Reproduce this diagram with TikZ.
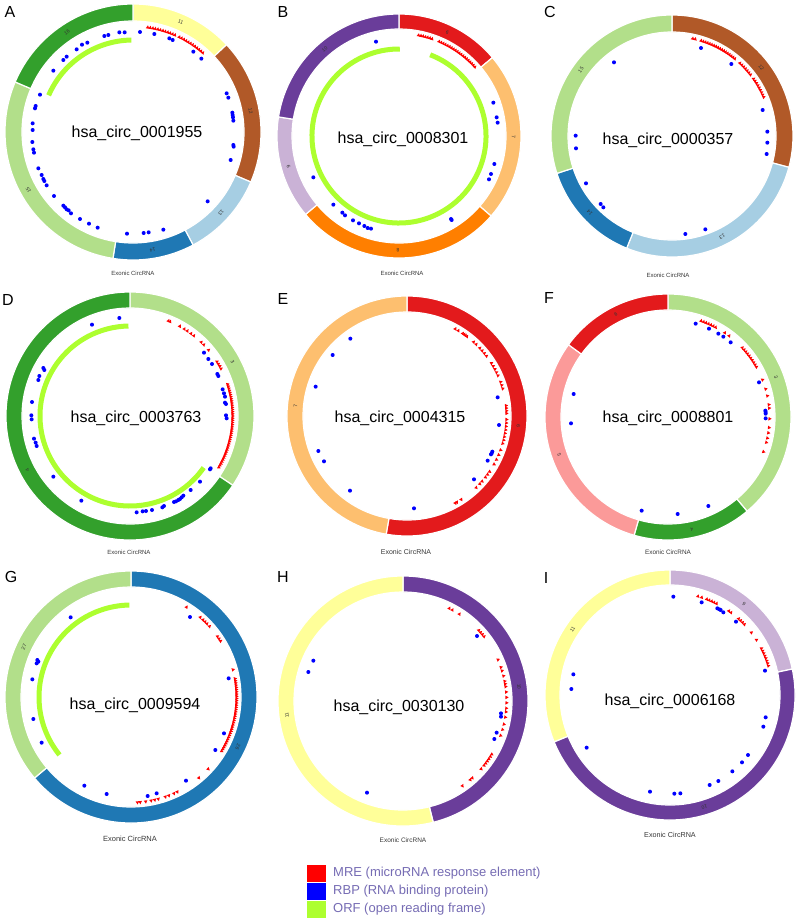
\documentclass[tikz,border=0pt]{standalone}
\usepackage{fontspec}
\setmainfont{Liberation Sans}
\usetikzlibrary{calc}
\definecolor{pYellow}{HTML}{FFFF99}
\definecolor{pBrown}{HTML}{B15928}
\definecolor{pLBlue}{HTML}{A6CEE3}
\definecolor{pDBlue}{HTML}{1F78B4}
\definecolor{pLGreen}{HTML}{B2DF8A}
\definecolor{pDGreen}{HTML}{33A02C}
\definecolor{pRed}{HTML}{E31A1C}
\definecolor{pPink}{HTML}{FB9A99}
\definecolor{pOrange}{HTML}{FF7F00}
\definecolor{pLOrange}{HTML}{FDBF6F}
\definecolor{pPurple}{HTML}{6A3D9A}
\definecolor{pLPurple}{HTML}{CAB2D6}
\definecolor{orfgreen}{HTML}{ADFF2F}
\definecolor{mrered}{HTML}{FF0000}
\definecolor{rbpblue}{HTML}{0000FF}
\definecolor{legtext}{RGB}{118,108,180}
\tikzset{
  segfill/.style={draw=white, line width=1.2pt},
  orfarc/.style={draw=orfgreen, line width=5pt},
  mre/.style={fill=mrered},
  rbp/.style={fill=rbpblue},
  title/.style={font=\fontsize{16}{18}\selectfont, text=black, inner sep=0pt},
  exonic/.style={font=\fontsize{#1}{#1}\selectfont, text=black!78, inner sep=0pt},
  exonic/.default=6,
  panellet/.style={font=\fontsize{16}{18}\selectfont, inner sep=0pt},
  seglabel/.style={font=\fontsize{5}{5}\selectfont, text=black!80, inner sep=0pt},
  legsq/.style={minimum width=19pt, minimum height=17pt, inner sep=0pt, draw=none},
  legtxt/.style={font=\fontsize{13}{15}\selectfont, text=legtext, inner sep=0pt, anchor=west}
}
% ring of exon segments: panel, inner r, outer r, list a/b/colour/label (a,b clockwise from top)
\newcommand\ring[4]{\foreach \a/\b/\c/\n in {#4}{%
  \fill[\c, segfill] ([shift={({90-\a}:#3)}]c#1) arc[start angle={90-\a}, end angle={90-\b}, radius=#3]
     -- ([shift={({90-\b}:#2)}]c#1) arc[start angle={90-\b}, end angle={90-\a}, radius=#2] -- cycle;
  \pgfmathsetmacro\m{(\a+\b)/2}
  \node[seglabel, rotate={-\m}] (lab#1\n) at ([shift={({90-\m}:{(#2+#3)/2})}]c#1) {\n};}}
% ORF arc: panel, radius, from, to (clockwise degrees from top)
\newcommand\orf[4]{\draw[orfarc] ([shift={({90-#3}:#2)}]c#1) arc[start angle={90-#3}, end angle={90-#4}, radius=#2];}
% MRE triangles: panel, radius, angle list
\newcommand\mres[3]{\foreach \t in {#3}{\fill[mre, shift={(c#1)}, rotate=-\t] (-1.8,#2-1.5) -- (1.8,#2-1.5) -- (0,#2+1.7) -- cycle;}}
% RBP dots: x offset, y offset, list of 3x-zoom coordinates
\newcommand\rbps[3]{\begin{scope}[xshift=#1pt, yshift=-#2pt, x=0.33333pt, y=-0.33333pt]
  \foreach \p in {#3}{\fill[rbp] \p circle[radius=2pt];}\end{scope}}
\begin{document}
\begin{tikzpicture}[x=1pt,y=1pt]
\useasboundingbox (0,0) rectangle (800,-923);
\fill[white] (0,0) rectangle (800,-923);
\coordinate (cA) at (133,-132);
\coordinate (cB) at (399,-136);
\coordinate (cC) at (672,-136);
\coordinate (cD) at (130,-416);
\coordinate (cE) at (407,-416);
\coordinate (cF) at (668,-417);
\coordinate (cG) at (131,-697);
\coordinate (cH) at (403,-701);
\coordinate (cI) at (670,-695);

% ---------- A
\ring{A}{111}{128}{0/47/pYellow/11,47/113/pBrown/12,113/152/pLBlue/13,152/189/pDBlue/14,189/293/pLGreen/15,293/360/pDGreen/16}
\orf{A}{92}{293.5}{359}
\mres{A}{106}{8,9.4,...,24,26,27.4,...,42}
\rbps{0}{0}{(313,108),(325,105),(358,97),(374,97),(420,96),(463,102),(508,115),(518,120),(580,155),(604,176),(246,134),(262,128),(230,148),(200,170),(190,180),(160,212),(120,284),(107,318),(105,325),(98,370),(98,390),(97,426),(100,448),(102,458),(115,505),(125,525),(130,537),(133,543),(140,556),(162,588),(190,617),(195,622),(200,628),(206,631),(213,640),(240,657),(267,671),(293,683),(381,701),(431,699),(446,697),(490,689),(623,604),(680,280),(685,293),(697,338),(698,345),(699,352),(700,362),(700,435),(701,440),(692,480)}
\node[title] (tA) at (137,-133) {hsa\_circ\_0001955};
\node[exonic] (eA) at (133,-273) {Exonic CircRNA};
\node[panellet] (pA) at (10,-12) {A};

% ---------- B
\ring{B}{107}{122}{0/50/pRed/6,50/131/pLOrange/7,131/230/pOrange/8,230/279/pLPurple/9,279/360/pPurple/10}
\orf{B}{87}{21}{360.5}
\mres{B}{103}{11,12.3,...,19,23,24.3,...,49}
\rbps{265}{0}{(333,125),(685,308),(695,352),(698,368),(688,492),(678,522),(672,538),(145,532),(205,614),(232,638),(240,646),(264,661),(282,670),(298,678),(308,684),(318,686),(558,657),(560,660)}
\node[title] (tB) at (403,-139) {hsa\_circ\_0008301};
\node[exonic] (eB) at (402,-273) {Exonic CircRNA};
\node[panellet] (pB) at (283,-12) {B};

% ---------- C
\ring{C}{104}{121}{0/105/pBrown/12,105/202/pLBlue/13,202/252/pDBlue/14,252/360/pLGreen/15}
\mres{C}{100}{12,13.5,17,18.3,...,40,43,44.5,...,52,55,56.5,...,68}
\rbps{530}{0}{(513,144),(604,192),(252,187),(698,330),(712,395),(712,428),(710,462),(137,407),(138,445),(168,550),(212,612),(220,622),(466,702),(526,688)}
\node[title] (tC) at (668,-140) {hsa\_circ\_0000357};
\node[exonic] (eC) at (668,-275) {Exonic CircRNA};
\node[panellet] (pC) at (550,-12) {C};

% ---------- D
\ring{D}{108}{124}{0/124/pLGreen/3,124/360/pDGreen/4}
\orf{D}{90}{125}{359}
\mres{D}{103}{22,23,29,32,34,36.5,38.5,44,46,50,58,59.5,61,62.5,72,73.2,...,121}
\rbps{0}{290}{(358,84),(276,104),(612,188),(625,207),(636,222),(652,252),(655,258),(668,298),(672,310),(675,320),(675,338),(678,342),(678,376),(680,385),(632,535),(630,538),(600,575),(572,600),(550,617),(545,622),(540,627),(535,630),(528,634),(522,636),(492,648),(487,652),(456,660),(438,663),(428,664),(410,667),(244,632),(160,560),(102,446),(107,458),(110,468),(96,336),(94,376),(95,388),(118,258),(115,270),(130,234),(133,240)}
\node[title] (tD) at (136,-418) {hsa\_circ\_0003763};
\node[exonic] (eD) at (129,-552) {Exonic CircRNA};
\node[panellet] (pD) at (8,-300) {D};

% ---------- E
\ring{E}{104}{120}{0/190/pRed/6,190/360/pLOrange/7}
\mres{E}{100}{29,31,34,35,36,37,42,44,47,49,51,53,58,60,62,64,66,70,72,74,84,85.5,87,88.5,92,94,96,98,100,102,104,106,110,113,116,119,124,126,128,131,133,136,147,150,151}
\rbps{265}{290}{(256,146),(203,195),(152,290),(160,483),(177,514),(255,602),(447,655),(698,322),(702,405),(682,485),(680,490),(678,493),(668,512),(627,568)}
\node[title] (tE) at (400,-418) {hsa\_circ\_0004315};
\node[exonic={7}] (eE) at (406,-552) {Exonic CircRNA};
\node[panellet] (pE) at (283,-299) {E};

% ---------- F
\ring{F}{107}{123}{0/140/pLGreen/3,140/196/pDGreen/4,196/306/pPink/5,306/360/pRed/6}
\mres{F}{102}{19,20.5,22,23.5,25,26.5,28,34,37,47,48.5,50,51.5,53,54.5,56,57.5,59,60.5,68.5,74,78,83,85,91,96,99,102,104.5,110}
\rbps{530}{290}{(497,101),(537,116),(565,131),(580,140),(602,157),(687,277),(706,362),(707,366),(707,371),(707,385),(131,312),(123,400),(335,662),(443,672),(535,648)}
\node[title] (tF) at (668,-418) {hsa\_circ\_0008801};
\node[exonic={6.4}] (eF) at (668,-552) {Exonic CircRNA};
\node[panellet] (pF) at (549,-298) {F};

% ---------- G
\ring{G}{110}{126}{0/230/pDBlue/26,230/360/pLGreen/27}
\orf{G}{92}{231}{359}
\mres{G}{106}{31.7,41,43,44.5,46,48,55,56.5,58,75,80,81.2,...,121,133,140,154,156,159,161,165,167,169,172,175,176.5}
\rbps{0}{570}{(212,142),(570,141),(112,270),(115,275),(110,280),(97,328),(100,447),(125,518),(686,325),(672,490),(646,540),(558,632),(470,670),(443,678),(320,672),(253,647)}
\node[title] (tG) at (135,-705) {hsa\_circ\_0009594};
\node[exonic={7.5}] (eG) at (130,-839) {Exonic CircRNA};
\node[panellet] (pG) at (11,-577) {G};

% ---------- H
\ring{H}{109}{125}{0/166/pPurple/10,166/360/pYellow/11}
\mres{H}{104}{26.6,28.5,33,47,48.5,50,51.5,66.5,71,73,76,79,80.5,82,85,88,91,94,96,99,103,106,109.5,121,122.5,124,125.5,127,128.5,131,138,139.5,145}
\rbps{265}{570}{(636,198),(145,272),(130,306),(708,430),(708,440),(695,488),(688,507),(306,668)}
\node[title] (tH) at (399,-707) {hsa\_circ\_0030130};
\node[exonic={6.5}] (eH) at (403,-840) {Exonic CircRNA};
\node[panellet] (pH) at (283,-577) {H};

% ---------- I
\ring{I}{110}{125}{0/78/pLPurple/9,78/248/pPurple/10,248/360/pYellow/11}
\mres{I}{103}{15.8,18,21,22.5,24,25.5,27,35,36.5,42,43.5,45,46.5,52.5,57.5,63,64.5,66,67.5,69,70.5,72,73.5}
\rbps{530}{570}{(430,80),(515,97),(562,115),(568,118),(572,120),(580,127),(618,155),(705,302),(707,442),(700,470),(654,555),(636,577),(607,604),(565,633),(539,645),(451,670),(433,671),(360,665),(170,533),(130,313),(124,357)}
\node[title] (tI) at (670,-701) {hsa\_circ\_0006168};
\node[exonic={7.2}] (eI) at (670,-835) {Exonic CircRNA};
\node[panellet] (pI) at (546,-578) {I};

% ---------- legend
\node[legsq, fill=mrered] (sqMRE) at (316.5,-873.5) {};
\node[legsq, fill=rbpblue] (sqRBP) at (316.5,-891) {};
\node[legsq, fill=orfgreen] (sqORF) at (316.5,-909) {};
\node[legtxt] (txMRE) at (333,-873.5) {MRE (microRNA response element)};
\node[legtxt] (txRBP) at (333,-891) {RBP (RNA binding protein)};
\node[legtxt] (txORF) at (333,-909) {ORF (open reading frame)};
\end{tikzpicture}
\end{document}
